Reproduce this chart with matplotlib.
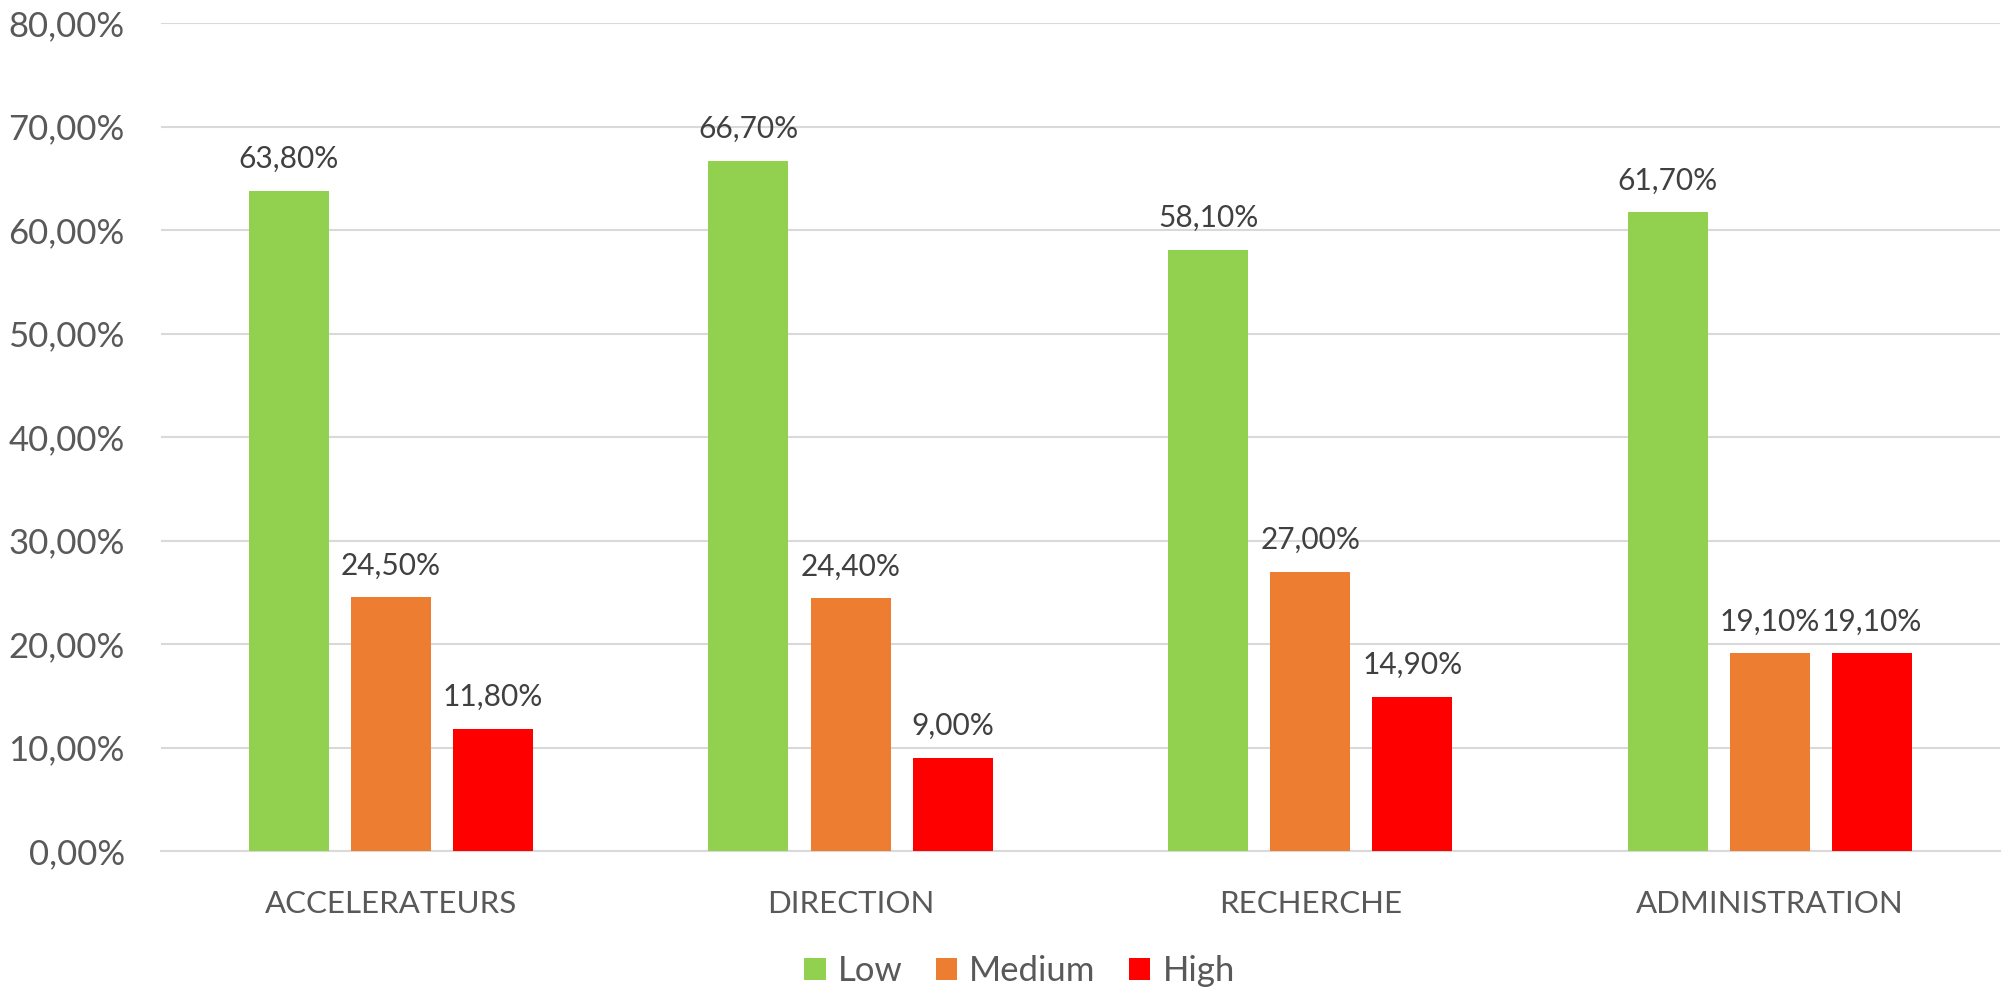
import numpy as np
import matplotlib
matplotlib.use("Agg")
import matplotlib.pyplot as plt
from matplotlib.ticker import FuncFormatter

categories = ["ACCELERATEURS", "DIRECTION", "RECHERCHE", "ADMINISTRATION"]
series_names = ["Low", "Medium", "High"]
low = [63.8, 66.7, 58.1, 61.7]
medium = [24.5, 24.4, 27.0, 19.1]
high = [11.8, 9.0, 14.9, 19.1]
colors = ["#92D050", "#ED7D31", "#FF0000"]

plt.rcParams['font.family'] = ['Lato', 'DejaVu Sans']

fig = plt.figure(figsize=(20.11, 9.89), dpi=100)
ax = fig.add_axes([0.080, 0.1395, 0.9145, 0.8372])

x = np.arange(len(categories))
width = 0.174
step = 0.222

for i, (name, vals, col) in enumerate(zip(series_names, [low, medium, high], colors)):
    pos = x + (i - 1) * step
    bars = ax.bar(pos, np.array(vals) / 100, width, color=col, label=name, zorder=3)
    for b, v in zip(bars, vals):
        ax.annotate(f"{v:.2f}%".replace(".", ","),
                    (b.get_x() + b.get_width() / 2, b.get_height()),
                    xytext=(0, 13), textcoords="offset points",
                    ha="center", va="bottom", fontsize=21.5, color="#404040")

ax.set_xlim(-0.5, len(categories) - 0.5)
ax.set_ylim(0, 0.8)
ax.set_yticks(np.arange(0, 0.81, 0.1))
ax.yaxis.set_major_formatter(FuncFormatter(lambda v, p: f"{v * 100:.2f}%".replace(".", ",")))
ax.set_xticks(x)
ax.set_xticklabels(categories)
ax.tick_params(axis="y", length=0, pad=26, labelsize=25, labelcolor="#595959")
ax.tick_params(axis="x", length=0, pad=28, labelsize=22.5, labelcolor="#595959")
for lbl in ax.get_yticklabels():
    lbl.set_horizontalalignment("right")

ax.grid(axis="y", color="#D9D9D9", linewidth=1.5, zorder=0)
for side in ["top", "right", "left"]:
    ax.spines[side].set_visible(False)
ax.spines["bottom"].set_color("#D9D9D9")
ax.spines["bottom"].set_linewidth(1.5)

fig.legend(loc="center", bbox_to_anchor=(0.507, 0.018), ncol=3, frameon=False,
           fontsize=25, labelcolor="#595959", handlelength=0.62, handleheight=0.62,
           handletextpad=0.35, columnspacing=0.95)

fig.savefig("out.png", dpi=100)
